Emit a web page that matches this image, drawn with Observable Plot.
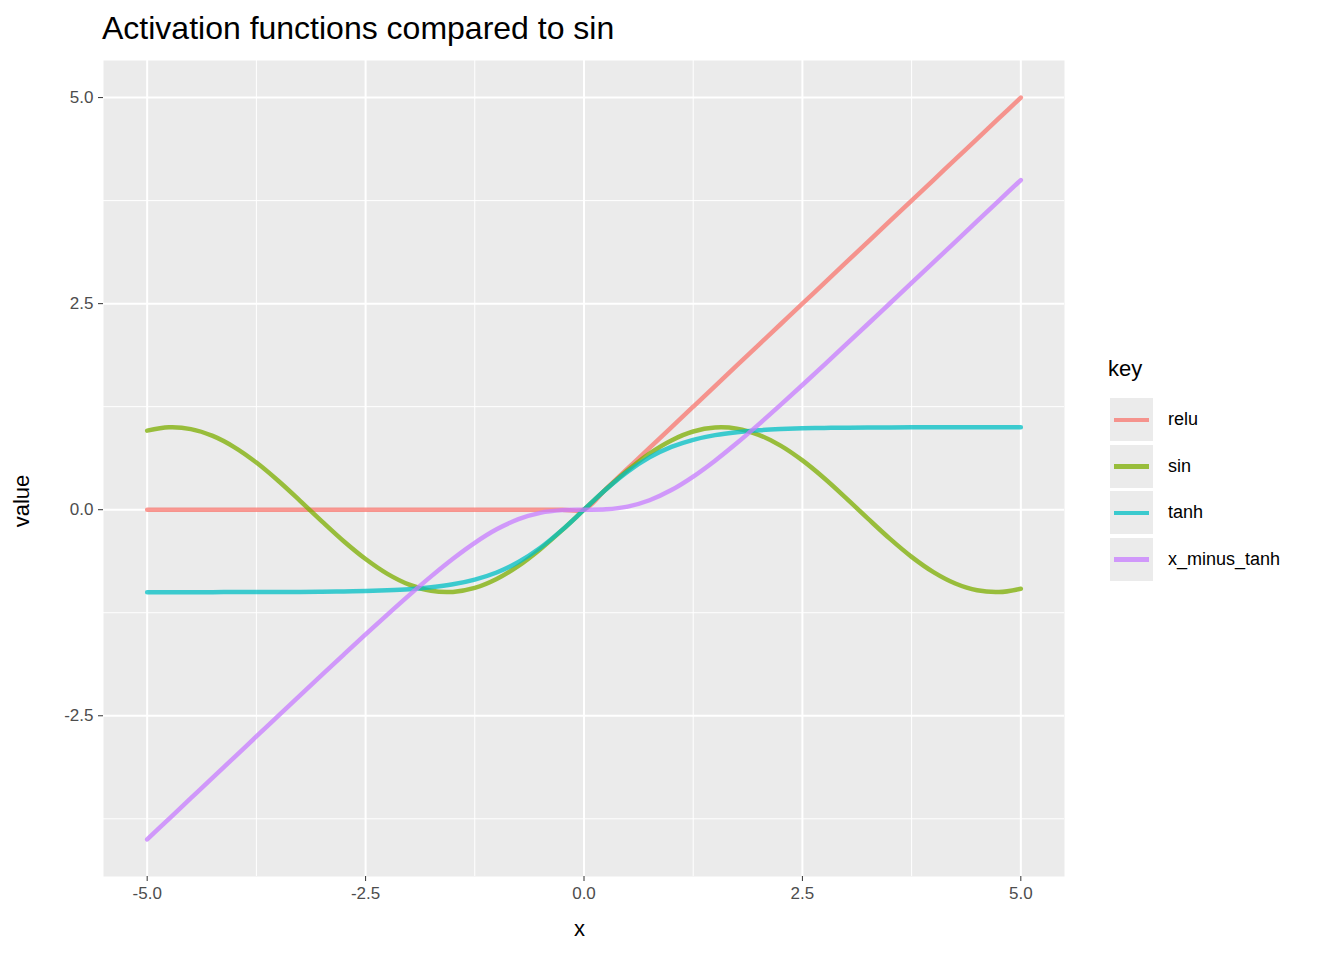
<!DOCTYPE html>
<html><head><meta charset="utf-8">
<script src="https://cdn.jsdelivr.net/npm/d3@7"></script>
<script src="https://cdn.jsdelivr.net/npm/@observablehq/plot@0.6"></script>
<style>
body{margin:0;background:#fff;font-family:"Liberation Sans",Arial,sans-serif;}
#wrap{position:relative;width:1344px;height:960px;}
.abs{position:absolute;white-space:nowrap;}
</style></head><body><div id="wrap"></div>
<script>
const xs = [-5,-4.75,-4.5,-4.25,-4,-3.75,-3.5,-3.25,-3,-2.75,-2.5,-2.25,-2,-1.75,-1.5,-1.25,-1,-0.75,-0.5,-0.25,0,0.25,0.5,0.75,1,1.25,1.5,1.75,2,2.25,2.5,2.75,3,3.25,3.5,3.75,4,4.25,4.5,4.75,5];
const reluVals = [0,0,0,0,0,0,0,0,0,0,0,0,0,0,0,0,0,0,0,0,0,0.25,0.5,0.75,1,1.25,1.5,1.75,2,2.25,2.5,2.75,3,3.25,3.5,3.75,4,4.25,4.5,4.75,5];
const sinVals = [0.959,0.999,0.978,0.895,0.757,0.572,0.351,0.108,-0.141,-0.382,-0.598,-0.778,-0.909,-0.984,-0.997,-0.949,-0.841,-0.682,-0.479,-0.247,0,0.247,0.479,0.682,0.841,0.949,0.997,0.984,0.909,0.778,0.598,0.382,0.141,-0.108,-0.351,-0.572,-0.757,-0.895,-0.978,-0.999,-0.959];
const tanhVals = [-1,-1,-1,-1,-0.999,-0.999,-0.998,-0.997,-0.995,-0.992,-0.987,-0.978,-0.964,-0.941,-0.905,-0.848,-0.762,-0.635,-0.462,-0.245,0,0.245,0.462,0.635,0.762,0.848,0.905,0.941,0.964,0.978,0.987,0.992,0.995,0.997,0.998,0.999,0.999,1,1,1,1];
const xMinusTanhVals = [-4,-3.75,-3.5,-3.25,-3.001,-2.751,-2.502,-2.253,-2.005,-1.758,-1.513,-1.272,-1.036,-0.809,-0.595,-0.402,-0.238,-0.115,-0.038,-0.005,0,0.005,0.038,0.115,0.238,0.402,0.595,0.809,1.036,1.272,1.513,1.758,2.005,2.253,2.502,2.751,3.001,3.25,3.5,3.75,4];
const keys = ["relu","sin","tanh","x_minus_tanh"];
const colors = ["#F8766D","#7CAE00","#00BFC4","#C77CFF"];
const majorX = [-5,-2.5,0,2.5,5], minorX = [-3.75,-1.25,1.25,3.75];
const majorY = [-2.5,0,2.5,5], minorY = [-3.75,-1.25,1.25,3.75];

const series = [reluVals, sinVals, tanhVals, xMinusTanhVals];
const data = [];
keys.forEach((k,i)=>xs.forEach((x,j)=>data.push({x, value: series[i][j], key: k})));

const plot = Plot.plot({
  width:1090, height:960,
  marginTop:60, marginBottom:84, marginLeft:103, marginRight:26,
  style:{fontFamily:"Liberation Sans, Arial, sans-serif", color:"#4D4D4D", background:"transparent"},
  x:{domain:[-5.5,5.5]},
  y:{domain:[-4.45,5.45]},
  color:{domain:keys, range:colors},
  marks:[
    Plot.frame({fill:"#EBEBEB", stroke:null}),
    Plot.ruleX(minorX,{stroke:"#fff", strokeWidth:1}),
    Plot.ruleY(minorY,{stroke:"#fff", strokeWidth:1}),
    Plot.ruleX(majorX,{stroke:"#fff", strokeWidth:2}),
    Plot.ruleY(majorY,{stroke:"#fff", strokeWidth:2}),
    Plot.axisX({ticks:majorX, tickFormat:d=>d.toFixed(1), label:null, tickSize:5, tickPadding:5, fontSize:17, stroke:"#333"}),
    Plot.axisY({ticks:majorY, tickFormat:d=>d.toFixed(1), label:null, tickSize:5, tickPadding:5, fontSize:17, stroke:"#333"}),
    Plot.line(data,{x:"x", y:"value", z:"key", stroke:"key", strokeWidth:4.5, strokeOpacity:0.75, curve:"catmull-rom"})
  ]
});
const wrap = document.getElementById("wrap");
plot.style.position="absolute"; plot.style.left="0"; plot.style.top="0";
wrap.appendChild(plot);
function txt(s,l,t,size,extra){const d=document.createElement("div");d.className="abs";d.textContent=s;d.style.left=l+"px";d.style.top=t+"px";d.style.fontSize=size+"px";if(extra)Object.assign(d.style,extra);wrap.appendChild(d);return d;}
txt("Activation functions compared to sin",102,10,32);
txt("x",574,916,22);
txt("value",6,488,22,{transform:"rotate(-90deg)",transformOrigin:"center",left:"-4px"});
txt("key",1108,356,22);
keys.forEach((k,i)=>{
  const top = 398 + i*46.5;
  const b=document.createElement("div");b.className="abs";
  Object.assign(b.style,{left:"1110px",top:top+"px",width:"43px",height:"43px",background:"#EBEBEB"});
  const ln=document.createElement("div");
  Object.assign(ln.style,{position:"absolute",left:"4px",top:"19.5px",width:"35px",height:"4.5px",background:colors[i],opacity:0.75});
  b.appendChild(ln);wrap.appendChild(b);
  txt(k,1168,top+11,18,{color:"#000"});
});
</script></body></html>
